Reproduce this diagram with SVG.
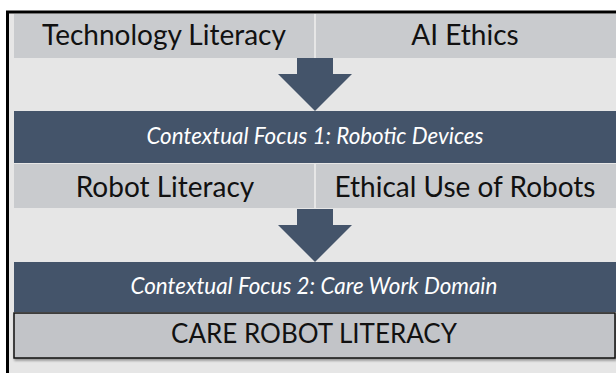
<svg xmlns="http://www.w3.org/2000/svg" width="616" height="373" viewBox="0 0 616 373">
  <defs>
    <style>
      .cell { fill: #c9cbce; }
      .band { fill: #44546a; }
      .arrow { fill: #44546a; }
      .lbl { font-family: Lato, "Open Sans", "Liberation Sans", sans-serif; font-size: 28px; fill: #111111; text-anchor: middle; }
      .focus { font-family: Lato, "Open Sans", "Liberation Sans", sans-serif; font-size: 22.4px; font-style: italic; fill: #ffffff; text-anchor: middle; }
    </style>
    <filter id="shadow" x="-5%" y="-20%" width="110%" height="150%">
      <feDropShadow dx="1" dy="2" stdDeviation="1.2" flood-color="#000000" flood-opacity="0.35"/>
    </filter>
  </defs>

  <!-- page and frame -->
  <rect x="0" y="0" width="616" height="373" fill="#ffffff"/>
  <rect x="7.5" y="12" width="620" height="370" fill="#e6e6e6" stroke="#000000" stroke-width="3"/>

  <!-- first tier -->
  <g id="technology-literacy">
    <rect class="cell" x="14" y="14" width="300" height="44"/>
    <text class="lbl" x="164" y="45">Technology Literacy</text>
  </g>
  <g id="ai-ethics">
    <rect class="cell" x="316" y="14" width="300" height="44"/>
    <text class="lbl" x="465" y="45">AI Ethics</text>
  </g>

  <g id="connectors">
    <polygon class="arrow" points="297,58 333,58 333,74 352,74 315,111 278,74 297,74"/>
    <polygon class="arrow" points="297,209 333,209 333,225 352,225 315,262 278,225 297,225"/>
  </g>

  <g id="focus-1">
    <rect class="band" x="14" y="111" width="602" height="52"/>
    <text class="focus" x="315" y="144">Contextual Focus 1: Robotic Devices</text>
  </g>

  <!-- second tier -->
  <g id="robot-literacy">
    <rect class="cell" x="14" y="164" width="300" height="44"/>
    <text class="lbl" x="165" y="197">Robot Literacy</text>
  </g>
  <g id="ethical-use">
    <rect class="cell" x="316" y="164" width="300" height="44"/>
    <text class="lbl" x="465" y="197">Ethical Use of Robots</text>
  </g>

  <g id="focus-2">
    <rect class="band" x="14" y="262" width="602" height="50"/>
    <text class="focus" x="314" y="294">Contextual Focus 2: Care Work Domain</text>
  </g>

  <g id="care-robot-literacy">
    <rect x="14" y="313" width="601" height="45" fill="#c2c4c8" stroke="#111111" stroke-width="1.5" filter="url(#shadow)"/>
    <text class="lbl" x="314" y="343" style="font-size:26px">CARE ROBOT LITERACY</text>
  </g>
</svg>
